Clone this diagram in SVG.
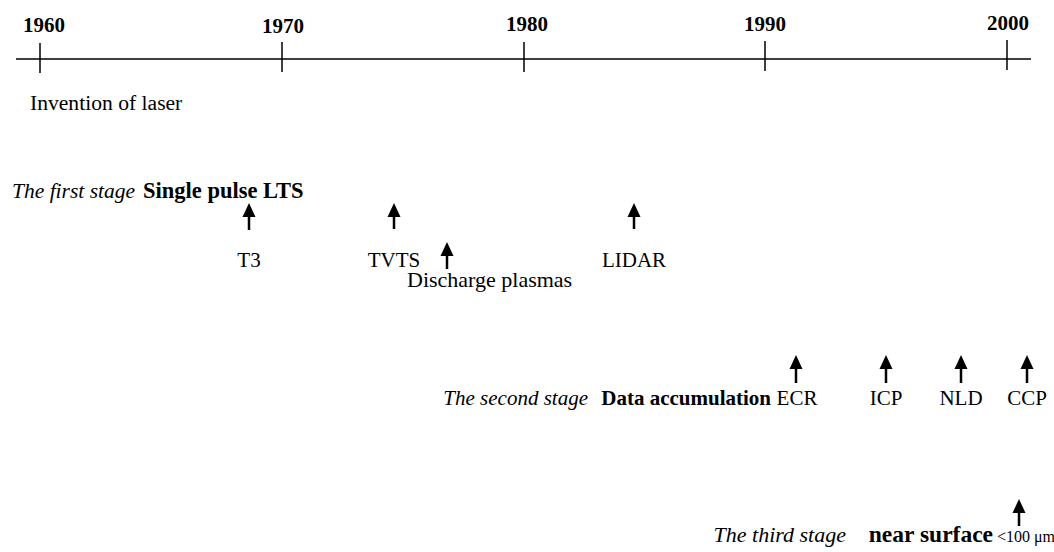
<svg xmlns="http://www.w3.org/2000/svg" width="1054" height="552" viewBox="0 0 1054 552">
<style>
text{font-family:"Liberation Serif","Times New Roman",serif;font-size:21px;fill:#000}
.yr{font-weight:bold;text-anchor:middle}
.b{font-weight:bold}
.i{font-style:italic}
.c{text-anchor:middle}
.e{text-anchor:end}
.ax{stroke:#000;stroke-width:1.5;fill:none}
.sh{stroke:#000;stroke-width:2.5}
</style>
<defs>
<path id="ar" d="M0,0 L-6.5,14 L6.5,14 Z" fill="#000"/>
</defs>
<rect width="1054" height="552" fill="#fff"/>
<g id="axis">
<line class="ax" x1="16" y1="59" x2="1031" y2="59"/>
<line class="ax" x1="40" y1="43" x2="40" y2="73"/>
<line class="ax" x1="282" y1="42" x2="282" y2="72"/>
<line class="ax" x1="524" y1="42" x2="524" y2="72"/>
<line class="ax" x1="765" y1="41" x2="765" y2="71"/>
<line class="ax" x1="1007" y1="40" x2="1007" y2="70"/>
<text class="yr" x="44" y="32">1960</text>
<text class="yr" x="283" y="33">1970</text>
<text class="yr" x="527" y="31">1980</text>
<text class="yr" x="765" y="31">1990</text>
<text class="yr" x="1008" y="30">2000</text>
</g>
<g id="laser"><text x="30" y="110" style="font-size:21.6px">Invention of laser</text></g>
<g id="stage1">
<text class="i" x="12" y="198" style="font-size:21.5px">The first stage</text>
<text class="b" x="143" y="198" style="font-size:22.5px">Single pulse LTS</text>
</g>
<g id="t3"><text class="c" x="249" y="267">T3</text></g>
<g id="tvts"><text class="c" x="394" y="267">TVTS</text></g>
<g id="discharge"><text x="407" y="287" style="font-size:22px">Discharge plasmas</text></g>
<g id="lidar"><text class="c" x="634" y="267">LIDAR</text></g>
<g id="stage2">
<text class="i e" x="588" y="405">The second stage</text>
<text class="b e" x="771" y="405">Data accumulation</text>
</g>
<g id="ecr"><text class="c" x="797" y="405">ECR</text></g>
<g id="icp"><text class="c" x="886" y="405">ICP</text></g>
<g id="nld"><text class="c" x="961" y="405">NLD</text></g>
<g id="ccp"><text class="c" x="1027" y="405">CCP</text></g>
<g id="stage3">
<text class="i e" x="846" y="542" style="font-size:22px">The third stage</text>
<text class="b e" x="993" y="542" style="font-size:23.5px">near surface</text>
</g>
<g id="um"><text x="997" y="542" style="font-size:16px">&lt;100 μm</text></g>
<g id="connectors">
<use href="#ar" x="249" y="203"/><line class="sh" x1="249" y1="215" x2="249" y2="230"/>
<use href="#ar" x="394" y="203"/><line class="sh" x1="394" y1="215" x2="394" y2="229"/>
<use href="#ar" x="447" y="242"/><line class="sh" x1="447" y1="254" x2="447" y2="269"/>
<use href="#ar" x="634" y="203"/><line class="sh" x1="634" y1="215" x2="634" y2="229"/>
<use href="#ar" x="796" y="355"/><line class="sh" x1="796" y1="367" x2="796" y2="383"/>
<use href="#ar" x="886" y="355"/><line class="sh" x1="886" y1="367" x2="886" y2="383"/>
<use href="#ar" x="961" y="355"/><line class="sh" x1="961" y1="367" x2="961" y2="383"/>
<use href="#ar" x="1027" y="355"/><line class="sh" x1="1027" y1="367" x2="1027" y2="383"/>
<use href="#ar" x="1019" y="499"/><line class="sh" x1="1019" y1="511" x2="1019" y2="526"/>
</g>
</svg>
